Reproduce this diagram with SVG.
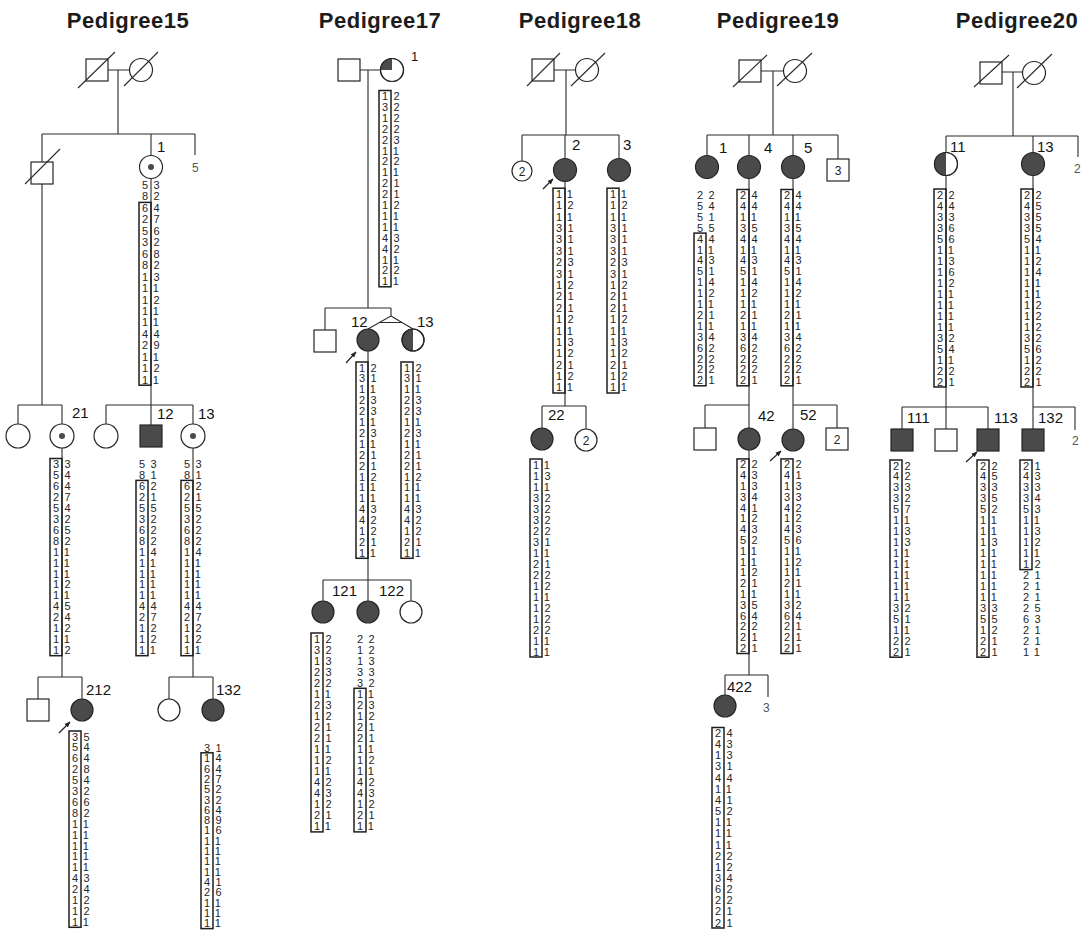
<svg xmlns="http://www.w3.org/2000/svg" width="1083" height="930" viewBox="0 0 1083 930">
<style>
text{font-family:'Liberation Sans',Arial,Helvetica,sans-serif}
.t{font-size:22px;font-weight:bold;letter-spacing:0.5px;fill:#1c1c1c;text-anchor:middle}
.lb{font-size:15px;fill:#141414}
.sm{font-size:12px;fill:#555}
.in{font-size:12px;fill:#222;text-anchor:middle}
.h{font-size:11px;letter-spacing:5.6px;fill:#262626}
.ln{fill:none;stroke:#2b2b2b;stroke-width:1.1}
.o{fill:#fff;stroke:#262626;stroke-width:1.2}
.a{fill:#4a4a4a;stroke:#262626;stroke-width:1.2}
.ring{fill:none;stroke:#262626;stroke-width:1.2}
.dk{fill:#4a4a4a}
.bx{fill:none;stroke:#1e1e1e;stroke-width:1.5}
.ar{fill:none;stroke:#222;stroke-width:1.2}
</style>
<defs>
<marker id="ah" viewBox="0 0 10 10" refX="9" refY="5" markerWidth="6" markerHeight="6" orient="auto" markerUnits="userSpaceOnUse"><path d="M0 1L10 5L0 9Z" fill="#222"/></marker>
</defs>
<rect width="1083" height="930" fill="#fff"/>

<g id="titles">
<text class="t" x="128" y="28">Pedigree15</text>
<text class="t" x="380" y="28">Pedigree17</text>
<text class="t" x="580" y="28">Pedigree18</text>
<text class="t" x="778" y="28">Pedigree19</text>
<text class="t" x="1017" y="28">Pedigree20</text>
</g>

<g id="connectors" class="ln">
<!-- Pedigree15 -->
<path d="M108 70H129.5M118 70V134M42 134H195M42 134V162M151 134V155.5M195 134V155M42 184V405M18 405H62M18 405V424M62 405V424M151 178.5V405M106 405H193M106 405V424M151 405V425M193 405V424M62 448V677M38 677H82M38 677V699M82 677V699M193 448V677M169 677H213M169 677V699M213 677V699"/>
<!-- Pedigree17 -->
<path d="M360 70H380.5M368 70V308M325 308H391M325 308V330M391 308V316L368 329M391 316L413 329M379.5 322.5H402M368 351V580M323 580H411M323 580V601M368 580V601M411 580V601"/>
<!-- Pedigree18 -->
<path d="M554 70H575.5M566 70V135M522 135H619M522 135V161M565 135V158.5M619 135V158.5M565 181.5V406M542 406H586M542 406V428M586 406V429"/>
<!-- Pedigree19 -->
<path d="M761 71H783.5M773 71V135M707 135H838M707 135V155.5M749 135V155.5M793 135V155.5M838 135V159M749 178.5V405M705 405H749M705 405V428M749 405V428M793 178.5V405M793 405H837M793 405V429M837 405V428M749 450V675M725 675H768M725 675V695M768 675V697"/>
<!-- Pedigree20 -->
<path d="M1002 72H1022.5M1013 72V136M946 136H1078M946 136V152.5M1033 136V152.5M1078 136V157M946 175.5V407M902 407H988M902 407V429M946 407V429M988 407V429M1033 175.5V407M1033 407H1075M1033 407V429M1075 407V430"/>
</g>

<!-- ===== Pedigree15 ===== -->
<g id="p15-I1"><rect class="o" x="86" y="59" width="22" height="22"/><line class="ln" x1="78" y1="88" x2="115" y2="52"/></g>
<g id="p15-I2"><circle class="o" cx="141" cy="70" r="11.5"/><line class="ln" x1="124" y1="86" x2="158" y2="52"/></g>
<g id="p15-II1"><rect class="o" x="31" y="162" width="22" height="22"/><line class="ln" x1="25" y1="184" x2="60" y2="149"/></g>
<g id="p15-1"><circle class="o" cx="151" cy="167" r="11.5"/><circle class="dk" cx="151" cy="167" r="3"/><text class="lb" x="157" y="152">1</text>
<rect class="bx" x="139" y="202.4" width="12" height="182.8"/>
<text class="h" y="189"><tspan x="141.9">53</tspan><tspan x="141.9" dy="11.45">82</tspan><tspan x="141.9" dy="11.45">64</tspan><tspan x="141.9" dy="11.45">27</tspan><tspan x="141.9" dy="11.45">56</tspan><tspan x="141.9" dy="11.45">32</tspan><tspan x="141.9" dy="11.45">68</tspan><tspan x="141.9" dy="11.45">82</tspan><tspan x="141.9" dy="11.45">13</tspan><tspan x="141.9" dy="11.45">11</tspan><tspan x="141.9" dy="11.45">12</tspan><tspan x="141.9" dy="11.45">11</tspan><tspan x="141.9" dy="11.45">11</tspan><tspan x="141.9" dy="11.45">44</tspan><tspan x="141.9" dy="11.45">29</tspan><tspan x="141.9" dy="11.45">11</tspan><tspan x="141.9" dy="11.45">12</tspan><tspan x="141.9" dy="11.45">11</tspan></text></g>
<g id="p15-II3"><text class="sm" x="192" y="172">5</text></g>

<g id="p15-III1"><circle class="o" cx="18" cy="436" r="12"/></g>
<g id="p15-21"><circle class="o" cx="62" cy="436" r="12"/><circle class="dk" cx="62" cy="436" r="3"/><text class="lb" x="72" y="418">21</text>
<rect class="bx" x="50" y="458.5" width="12" height="197.2"/>
<text class="h" y="468"><tspan x="52.9">33</tspan><tspan x="52.9" dy="10.95">54</tspan><tspan x="52.9" dy="10.95">64</tspan><tspan x="52.9" dy="10.95">27</tspan><tspan x="52.9" dy="10.95">54</tspan><tspan x="52.9" dy="10.95">32</tspan><tspan x="52.9" dy="10.95">65</tspan><tspan x="52.9" dy="10.95">82</tspan><tspan x="52.9" dy="10.95">11</tspan><tspan x="52.9" dy="10.95">11</tspan><tspan x="52.9" dy="10.95">11</tspan><tspan x="52.9" dy="10.95">12</tspan><tspan x="52.9" dy="10.95">11</tspan><tspan x="52.9" dy="10.95">45</tspan><tspan x="52.9" dy="10.95">24</tspan><tspan x="52.9" dy="10.95">12</tspan><tspan x="52.9" dy="10.95">11</tspan><tspan x="52.9" dy="10.95">12</tspan></text></g>
<g id="p15-III3"><circle class="o" cx="106" cy="436" r="12"/></g>
<g id="p15-12"><rect class="a" x="140" y="425" width="22" height="22"/><text class="lb" x="157" y="419">12</text>
<rect class="bx" x="136" y="480.4" width="12" height="175.3"/>
<text class="h" y="468"><tspan x="138.9">53</tspan><tspan x="138.9" dy="10.95">81</tspan><tspan x="138.9" dy="10.95">62</tspan><tspan x="138.9" dy="10.95">21</tspan><tspan x="138.9" dy="10.95">55</tspan><tspan x="138.9" dy="10.95">32</tspan><tspan x="138.9" dy="10.95">62</tspan><tspan x="138.9" dy="10.95">82</tspan><tspan x="138.9" dy="10.95">14</tspan><tspan x="138.9" dy="10.95">11</tspan><tspan x="138.9" dy="10.95">11</tspan><tspan x="138.9" dy="10.95">11</tspan><tspan x="138.9" dy="10.95">11</tspan><tspan x="138.9" dy="10.95">44</tspan><tspan x="138.9" dy="10.95">27</tspan><tspan x="138.9" dy="10.95">12</tspan><tspan x="138.9" dy="10.95">12</tspan><tspan x="138.9" dy="10.95">11</tspan></text></g>
<g id="p15-13"><circle class="o" cx="193" cy="436" r="12"/><circle class="dk" cx="193" cy="436" r="3"/><text class="lb" x="198" y="419">13</text>
<rect class="bx" x="181" y="480.4" width="12" height="175.3"/>
<text class="h" y="468"><tspan x="183.9">53</tspan><tspan x="183.9" dy="10.95">81</tspan><tspan x="183.9" dy="10.95">62</tspan><tspan x="183.9" dy="10.95">21</tspan><tspan x="183.9" dy="10.95">55</tspan><tspan x="183.9" dy="10.95">32</tspan><tspan x="183.9" dy="10.95">62</tspan><tspan x="183.9" dy="10.95">82</tspan><tspan x="183.9" dy="10.95">14</tspan><tspan x="183.9" dy="10.95">11</tspan><tspan x="183.9" dy="10.95">11</tspan><tspan x="183.9" dy="10.95">11</tspan><tspan x="183.9" dy="10.95">11</tspan><tspan x="183.9" dy="10.95">44</tspan><tspan x="183.9" dy="10.95">27</tspan><tspan x="183.9" dy="10.95">12</tspan><tspan x="183.9" dy="10.95">12</tspan><tspan x="183.9" dy="10.95">11</tspan></text></g>

<g id="p15-IV1"><rect class="o" x="27" y="699" width="22" height="22"/></g>
<g id="p15-212"><circle class="a" cx="82" cy="710" r="11"/><text class="lb" x="86" y="695">212</text>
<path class="ar" d="M59 733L70 722" marker-end="url(#ah)"/>
<rect class="bx" x="69" y="731" width="12" height="196.3"/>
<text class="h" y="740.5"><tspan x="71.9">35</tspan><tspan x="71.9" dy="10.9">54</tspan><tspan x="71.9" dy="10.9">64</tspan><tspan x="71.9" dy="10.9">28</tspan><tspan x="71.9" dy="10.9">54</tspan><tspan x="71.9" dy="10.9">32</tspan><tspan x="71.9" dy="10.9">66</tspan><tspan x="71.9" dy="10.9">82</tspan><tspan x="71.9" dy="10.9">11</tspan><tspan x="71.9" dy="10.9">11</tspan><tspan x="71.9" dy="10.9">11</tspan><tspan x="71.9" dy="10.9">11</tspan><tspan x="71.9" dy="10.9">11</tspan><tspan x="71.9" dy="10.9">43</tspan><tspan x="71.9" dy="10.9">24</tspan><tspan x="71.9" dy="10.9">12</tspan><tspan x="71.9" dy="10.9">12</tspan><tspan x="71.9" dy="10.9">11</tspan></text></g>
<g id="p15-IV3"><circle class="o" cx="169" cy="710" r="11"/></g>
<g id="p15-132"><circle class="a" cx="213" cy="710" r="11"/><text class="lb" x="216" y="695">132</text>
<rect class="bx" x="201" y="752.8" width="12" height="175.8"/>
<text class="h" y="752"><tspan x="203.9">31</tspan><tspan x="203.9" dy="10.3">14</tspan><tspan x="203.9" dy="10.3">64</tspan><tspan x="203.9" dy="10.3">27</tspan><tspan x="203.9" dy="10.3">52</tspan><tspan x="203.9" dy="10.3">32</tspan><tspan x="203.9" dy="10.3">64</tspan><tspan x="203.9" dy="10.3">89</tspan><tspan x="203.9" dy="10.3">16</tspan><tspan x="203.9" dy="10.3">11</tspan><tspan x="203.9" dy="10.3">11</tspan><tspan x="203.9" dy="10.3">11</tspan><tspan x="203.9" dy="10.3">11</tspan><tspan x="203.9" dy="10.3">41</tspan><tspan x="203.9" dy="10.3">26</tspan><tspan x="203.9" dy="10.3">11</tspan><tspan x="203.9" dy="10.3">11</tspan><tspan x="203.9" dy="10.3">11</tspan></text></g>

<!-- ===== Pedigree17 ===== -->
<g id="p17-I1"><rect class="o" x="338" y="59" width="22" height="22"/></g>
<g id="p17-1"><circle class="o" cx="392" cy="70" r="11.5"/><path class="dk" d="M392 70V58.5A11.5 11.5 0 0 0 380.5 70Z"/><circle class="ring" cx="392" cy="70" r="11.5"/><text class="lb" x="411" y="61" style="font-size:13px">1</text>
<rect class="bx" x="379" y="90.5" width="12" height="196.3"/>
<text class="h" y="100"><tspan x="381.9">12</tspan><tspan x="381.9" dy="10.9">32</tspan><tspan x="381.9" dy="10.9">12</tspan><tspan x="381.9" dy="10.9">22</tspan><tspan x="381.9" dy="10.9">23</tspan><tspan x="381.9" dy="10.9">11</tspan><tspan x="381.9" dy="10.9">22</tspan><tspan x="381.9" dy="10.9">11</tspan><tspan x="381.9" dy="10.9">21</tspan><tspan x="381.9" dy="10.9">21</tspan><tspan x="381.9" dy="10.9">12</tspan><tspan x="381.9" dy="10.9">11</tspan><tspan x="381.9" dy="10.9">11</tspan><tspan x="381.9" dy="10.9">43</tspan><tspan x="381.9" dy="10.9">42</tspan><tspan x="381.9" dy="10.9">11</tspan><tspan x="381.9" dy="10.9">22</tspan><tspan x="381.9" dy="10.9">11</tspan></text></g>
<g id="p17-II1"><rect class="o" x="314" y="330" width="22" height="22"/></g>
<g id="p17-12"><circle class="a" cx="368" cy="340" r="11"/><text class="lb" x="351" y="327">12</text>
<path class="ar" d="M346 363L356 352" marker-end="url(#ah)"/>
<rect class="bx" x="356" y="362" width="12" height="196.3"/>
<text class="h" y="371.5"><tspan x="358.9">12</tspan><tspan x="358.9" dy="10.9">31</tspan><tspan x="358.9" dy="10.9">11</tspan><tspan x="358.9" dy="10.9">23</tspan><tspan x="358.9" dy="10.9">23</tspan><tspan x="358.9" dy="10.9">11</tspan><tspan x="358.9" dy="10.9">23</tspan><tspan x="358.9" dy="10.9">11</tspan><tspan x="358.9" dy="10.9">21</tspan><tspan x="358.9" dy="10.9">21</tspan><tspan x="358.9" dy="10.9">12</tspan><tspan x="358.9" dy="10.9">11</tspan><tspan x="358.9" dy="10.9">11</tspan><tspan x="358.9" dy="10.9">43</tspan><tspan x="358.9" dy="10.9">42</tspan><tspan x="358.9" dy="10.9">12</tspan><tspan x="358.9" dy="10.9">21</tspan><tspan x="358.9" dy="10.9">11</tspan></text></g>
<g id="p17-13"><circle class="o" cx="413" cy="340" r="11"/><path class="dk" d="M413 329A11 11 0 0 0 413 351Z"/><circle class="ring" cx="413" cy="340" r="11"/><text class="lb" x="417" y="327">13</text>
<rect class="bx" x="401" y="362" width="12" height="196.3"/>
<text class="h" y="371.5"><tspan x="403.9">12</tspan><tspan x="403.9" dy="10.9">31</tspan><tspan x="403.9" dy="10.9">11</tspan><tspan x="403.9" dy="10.9">23</tspan><tspan x="403.9" dy="10.9">23</tspan><tspan x="403.9" dy="10.9">11</tspan><tspan x="403.9" dy="10.9">23</tspan><tspan x="403.9" dy="10.9">11</tspan><tspan x="403.9" dy="10.9">21</tspan><tspan x="403.9" dy="10.9">21</tspan><tspan x="403.9" dy="10.9">12</tspan><tspan x="403.9" dy="10.9">11</tspan><tspan x="403.9" dy="10.9">11</tspan><tspan x="403.9" dy="10.9">43</tspan><tspan x="403.9" dy="10.9">42</tspan><tspan x="403.9" dy="10.9">12</tspan><tspan x="403.9" dy="10.9">21</tspan><tspan x="403.9" dy="10.9">11</tspan></text></g>

<g id="p17-121"><circle class="a" cx="323" cy="612" r="11"/><text class="lb" x="332" y="596">121</text>
<rect class="bx" x="311" y="633" width="12" height="198.9"/>
<text class="h" y="642.5"><tspan x="313.9">12</tspan><tspan x="313.9" dy="11.05">32</tspan><tspan x="313.9" dy="11.05">13</tspan><tspan x="313.9" dy="11.05">23</tspan><tspan x="313.9" dy="11.05">22</tspan><tspan x="313.9" dy="11.05">11</tspan><tspan x="313.9" dy="11.05">23</tspan><tspan x="313.9" dy="11.05">12</tspan><tspan x="313.9" dy="11.05">21</tspan><tspan x="313.9" dy="11.05">21</tspan><tspan x="313.9" dy="11.05">11</tspan><tspan x="313.9" dy="11.05">12</tspan><tspan x="313.9" dy="11.05">11</tspan><tspan x="313.9" dy="11.05">42</tspan><tspan x="313.9" dy="11.05">43</tspan><tspan x="313.9" dy="11.05">12</tspan><tspan x="313.9" dy="11.05">21</tspan><tspan x="313.9" dy="11.05">11</tspan></text></g>
<g id="p17-122"><circle class="a" cx="368" cy="612" r="11"/><text class="lb" x="379" y="596">122</text>
<rect class="bx" x="354" y="688.3" width="12" height="143.6"/>
<text class="h" y="642.5"><tspan x="356.9">22</tspan><tspan x="356.9" dy="11.05">12</tspan><tspan x="356.9" dy="11.05">13</tspan><tspan x="356.9" dy="11.05">33</tspan><tspan x="356.9" dy="11.05">32</tspan><tspan x="356.9" dy="11.05">11</tspan><tspan x="356.9" dy="11.05">23</tspan><tspan x="356.9" dy="11.05">12</tspan><tspan x="356.9" dy="11.05">21</tspan><tspan x="356.9" dy="11.05">21</tspan><tspan x="356.9" dy="11.05">11</tspan><tspan x="356.9" dy="11.05">12</tspan><tspan x="356.9" dy="11.05">11</tspan><tspan x="356.9" dy="11.05">42</tspan><tspan x="356.9" dy="11.05">43</tspan><tspan x="356.9" dy="11.05">12</tspan><tspan x="356.9" dy="11.05">21</tspan><tspan x="356.9" dy="11.05">11</tspan></text></g>
<g id="p17-III3"><circle class="o" cx="411" cy="612" r="11"/></g>

<!-- ===== Pedigree18 ===== -->
<g id="p18-I1"><rect class="o" x="532" y="59" width="22" height="22"/><line class="ln" x1="527" y1="86" x2="560" y2="53"/></g>
<g id="p18-I2"><circle class="o" cx="587" cy="70" r="11.5"/><line class="ln" x1="571" y1="86" x2="605" y2="53"/></g>
<g id="p18-II1"><circle class="o" cx="522" cy="171" r="10"/><text class="in" x="522" y="175.5">2</text></g>
<g id="p18-2"><circle class="a" cx="565" cy="170" r="11.5"/><text class="lb" x="572" y="150">2</text>
<path class="ar" d="M543 189L553 179" marker-end="url(#ah)"/>
<rect class="bx" x="553" y="188.2" width="12" height="204.8"/>
<text class="h" y="197.7"><tspan x="555.9">11</tspan><tspan x="555.9" dy="11.4">12</tspan><tspan x="555.9" dy="11.4">11</tspan><tspan x="555.9" dy="11.4">31</tspan><tspan x="555.9" dy="11.4">31</tspan><tspan x="555.9" dy="11.4">31</tspan><tspan x="555.9" dy="11.4">23</tspan><tspan x="555.9" dy="11.4">31</tspan><tspan x="555.9" dy="11.4">12</tspan><tspan x="555.9" dy="11.4">21</tspan><tspan x="555.9" dy="11.4">21</tspan><tspan x="555.9" dy="11.4">12</tspan><tspan x="555.9" dy="11.4">11</tspan><tspan x="555.9" dy="11.4">13</tspan><tspan x="555.9" dy="11.4">12</tspan><tspan x="555.9" dy="11.4">21</tspan><tspan x="555.9" dy="11.4">12</tspan><tspan x="555.9" dy="11.4">11</tspan></text></g>
<g id="p18-3"><circle class="a" cx="619" cy="170" r="11.5"/><text class="lb" x="623" y="150">3</text>
<rect class="bx" x="607" y="188.2" width="12" height="204.8"/>
<text class="h" y="197.7"><tspan x="609.9">11</tspan><tspan x="609.9" dy="11.4">12</tspan><tspan x="609.9" dy="11.4">11</tspan><tspan x="609.9" dy="11.4">31</tspan><tspan x="609.9" dy="11.4">31</tspan><tspan x="609.9" dy="11.4">31</tspan><tspan x="609.9" dy="11.4">23</tspan><tspan x="609.9" dy="11.4">31</tspan><tspan x="609.9" dy="11.4">12</tspan><tspan x="609.9" dy="11.4">21</tspan><tspan x="609.9" dy="11.4">21</tspan><tspan x="609.9" dy="11.4">12</tspan><tspan x="609.9" dy="11.4">11</tspan><tspan x="609.9" dy="11.4">13</tspan><tspan x="609.9" dy="11.4">12</tspan><tspan x="609.9" dy="11.4">21</tspan><tspan x="609.9" dy="11.4">12</tspan><tspan x="609.9" dy="11.4">11</tspan></text></g>
<g id="p18-22"><circle class="a" cx="542" cy="439" r="11"/><text class="lb" x="548" y="420">22</text>
<rect class="bx" x="530" y="459" width="12" height="198"/>
<text class="h" y="468.5"><tspan x="532.9">11</tspan><tspan x="532.9" dy="11">13</tspan><tspan x="532.9" dy="11">11</tspan><tspan x="532.9" dy="11">32</tspan><tspan x="532.9" dy="11">32</tspan><tspan x="532.9" dy="11">32</tspan><tspan x="532.9" dy="11">22</tspan><tspan x="532.9" dy="11">31</tspan><tspan x="532.9" dy="11">11</tspan><tspan x="532.9" dy="11">21</tspan><tspan x="532.9" dy="11">22</tspan><tspan x="532.9" dy="11">12</tspan><tspan x="532.9" dy="11">11</tspan><tspan x="532.9" dy="11">12</tspan><tspan x="532.9" dy="11">12</tspan><tspan x="532.9" dy="11">22</tspan><tspan x="532.9" dy="11">11</tspan><tspan x="532.9" dy="11">11</tspan></text></g>
<g id="p18-III2"><circle class="o" cx="586" cy="440" r="11"/><text class="in" x="586" y="444.5">2</text></g>

<!-- ===== Pedigree19 ===== -->
<g id="p19-I1"><rect class="o" x="739" y="60" width="22" height="22"/><line class="ln" x1="733" y1="87" x2="767" y2="55"/></g>
<g id="p19-I2"><circle class="o" cx="795" cy="71" r="11.5"/><line class="ln" x1="777" y1="86" x2="812" y2="53"/></g>
<g id="p19-1"><circle class="a" cx="707" cy="167" r="11.5"/><text class="lb" x="719" y="153">1</text>
<rect class="bx" x="694" y="233.1" width="12" height="152.7"/>
<text class="h" y="199"><tspan x="696.9">22</tspan><tspan x="696.9" dy="10.9">54</tspan><tspan x="696.9" dy="10.9">51</tspan><tspan x="696.9" dy="10.9">55</tspan><tspan x="696.9" dy="10.9">44</tspan><tspan x="696.9" dy="10.9">11</tspan><tspan x="696.9" dy="10.9">43</tspan><tspan x="696.9" dy="10.9">51</tspan><tspan x="696.9" dy="10.9">14</tspan><tspan x="696.9" dy="10.9">12</tspan><tspan x="696.9" dy="10.9">11</tspan><tspan x="696.9" dy="10.9">21</tspan><tspan x="696.9" dy="10.9">11</tspan><tspan x="696.9" dy="10.9">34</tspan><tspan x="696.9" dy="10.9">62</tspan><tspan x="696.9" dy="10.9">22</tspan><tspan x="696.9" dy="10.9">22</tspan><tspan x="696.9" dy="10.9">21</tspan></text></g>
<g id="p19-4"><circle class="a" cx="749" cy="167" r="11.5"/><text class="lb" x="764" y="153">4</text>
<rect class="bx" x="737" y="189.5" width="12" height="196.3"/>
<text class="h" y="199"><tspan x="739.9">24</tspan><tspan x="739.9" dy="10.9">44</tspan><tspan x="739.9" dy="10.9">11</tspan><tspan x="739.9" dy="10.9">35</tspan><tspan x="739.9" dy="10.9">44</tspan><tspan x="739.9" dy="10.9">11</tspan><tspan x="739.9" dy="10.9">43</tspan><tspan x="739.9" dy="10.9">51</tspan><tspan x="739.9" dy="10.9">14</tspan><tspan x="739.9" dy="10.9">12</tspan><tspan x="739.9" dy="10.9">11</tspan><tspan x="739.9" dy="10.9">21</tspan><tspan x="739.9" dy="10.9">11</tspan><tspan x="739.9" dy="10.9">34</tspan><tspan x="739.9" dy="10.9">62</tspan><tspan x="739.9" dy="10.9">22</tspan><tspan x="739.9" dy="10.9">22</tspan><tspan x="739.9" dy="10.9">21</tspan></text></g>
<g id="p19-5"><circle class="a" cx="793" cy="167" r="11.5"/><text class="lb" x="804" y="153">5</text>
<rect class="bx" x="781" y="189.5" width="12" height="196.3"/>
<text class="h" y="199"><tspan x="783.9">24</tspan><tspan x="783.9" dy="10.9">44</tspan><tspan x="783.9" dy="10.9">11</tspan><tspan x="783.9" dy="10.9">35</tspan><tspan x="783.9" dy="10.9">44</tspan><tspan x="783.9" dy="10.9">11</tspan><tspan x="783.9" dy="10.9">43</tspan><tspan x="783.9" dy="10.9">51</tspan><tspan x="783.9" dy="10.9">14</tspan><tspan x="783.9" dy="10.9">12</tspan><tspan x="783.9" dy="10.9">11</tspan><tspan x="783.9" dy="10.9">21</tspan><tspan x="783.9" dy="10.9">11</tspan><tspan x="783.9" dy="10.9">34</tspan><tspan x="783.9" dy="10.9">62</tspan><tspan x="783.9" dy="10.9">22</tspan><tspan x="783.9" dy="10.9">22</tspan><tspan x="783.9" dy="10.9">21</tspan></text></g>
<g id="p19-II4"><rect class="o" x="827" y="159" width="22" height="22"/><text class="in" x="838" y="174.5">3</text></g>

<g id="p19-III1"><rect class="o" x="694" y="428" width="22" height="22"/></g>
<g id="p19-42"><circle class="a" cx="749" cy="439" r="11"/><text class="lb" x="758" y="421">42</text>
<rect class="bx" x="737" y="458.9" width="12" height="194.6"/>
<text class="h" y="468.4"><tspan x="739.9">22</tspan><tspan x="739.9" dy="10.8">43</tspan><tspan x="739.9" dy="10.8">13</tspan><tspan x="739.9" dy="10.8">34</tspan><tspan x="739.9" dy="10.8">41</tspan><tspan x="739.9" dy="10.8">12</tspan><tspan x="739.9" dy="10.8">43</tspan><tspan x="739.9" dy="10.8">52</tspan><tspan x="739.9" dy="10.8">11</tspan><tspan x="739.9" dy="10.8">11</tspan><tspan x="739.9" dy="10.8">12</tspan><tspan x="739.9" dy="10.8">21</tspan><tspan x="739.9" dy="10.8">11</tspan><tspan x="739.9" dy="10.8">35</tspan><tspan x="739.9" dy="10.8">64</tspan><tspan x="739.9" dy="10.8">22</tspan><tspan x="739.9" dy="10.8">21</tspan><tspan x="739.9" dy="10.8">21</tspan></text></g>
<g id="p19-52"><circle class="a" cx="793" cy="440" r="11"/><text class="lb" x="800" y="420">52</text>
<path class="ar" d="M770 461L781 451" marker-end="url(#ah)"/>
<rect class="bx" x="781" y="458.9" width="12" height="194.6"/>
<text class="h" y="468.4"><tspan x="783.9">22</tspan><tspan x="783.9" dy="10.8">41</tspan><tspan x="783.9" dy="10.8">13</tspan><tspan x="783.9" dy="10.8">33</tspan><tspan x="783.9" dy="10.8">42</tspan><tspan x="783.9" dy="10.8">12</tspan><tspan x="783.9" dy="10.8">43</tspan><tspan x="783.9" dy="10.8">56</tspan><tspan x="783.9" dy="10.8">11</tspan><tspan x="783.9" dy="10.8">12</tspan><tspan x="783.9" dy="10.8">11</tspan><tspan x="783.9" dy="10.8">21</tspan><tspan x="783.9" dy="10.8">11</tspan><tspan x="783.9" dy="10.8">32</tspan><tspan x="783.9" dy="10.8">64</tspan><tspan x="783.9" dy="10.8">21</tspan><tspan x="783.9" dy="10.8">21</tspan><tspan x="783.9" dy="10.8">21</tspan></text></g>
<g id="p19-III4"><rect class="o" x="826" y="428" width="22" height="22"/><text class="in" x="837" y="443.5">2</text></g>

<g id="p19-422"><circle class="a" cx="725" cy="706" r="11"/><text class="lb" x="727" y="692">422</text>
<rect class="bx" x="712" y="727.5" width="12" height="200.5"/>
<text class="h" y="737"><tspan x="714.9">24</tspan><tspan x="714.9" dy="11.15">43</tspan><tspan x="714.9" dy="11.15">13</tspan><tspan x="714.9" dy="11.15">31</tspan><tspan x="714.9" dy="11.15">44</tspan><tspan x="714.9" dy="11.15">11</tspan><tspan x="714.9" dy="11.15">41</tspan><tspan x="714.9" dy="11.15">52</tspan><tspan x="714.9" dy="11.15">11</tspan><tspan x="714.9" dy="11.15">11</tspan><tspan x="714.9" dy="11.15">11</tspan><tspan x="714.9" dy="11.15">22</tspan><tspan x="714.9" dy="11.15">12</tspan><tspan x="714.9" dy="11.15">34</tspan><tspan x="714.9" dy="11.15">62</tspan><tspan x="714.9" dy="11.15">22</tspan><tspan x="714.9" dy="11.15">21</tspan><tspan x="714.9" dy="11.15">21</tspan></text></g>
<g id="p19-IV2"><text class="sm" x="763" y="712">3</text></g>

<!-- ===== Pedigree20 ===== -->
<g id="p20-I1"><rect class="o" x="980" y="62" width="22" height="22"/><line class="ln" x1="974" y1="87" x2="1009" y2="55"/></g>
<g id="p20-I2"><circle class="o" cx="1034" cy="73" r="11.5"/><line class="ln" x1="1017" y1="88" x2="1052" y2="54"/></g>
<g id="p20-11"><circle class="o" cx="946" cy="164" r="11.5"/><path class="dk" d="M946 152.5A11.5 11.5 0 0 0 946 175.5Z"/><circle class="ring" cx="946" cy="164" r="11.5"/><text class="lb" x="950" y="152">11</text>
<rect class="bx" x="934" y="189" width="12" height="198"/>
<text class="h" y="198.5"><tspan x="936.9">22</tspan><tspan x="936.9" dy="11">44</tspan><tspan x="936.9" dy="11">33</tspan><tspan x="936.9" dy="11">36</tspan><tspan x="936.9" dy="11">56</tspan><tspan x="936.9" dy="11">11</tspan><tspan x="936.9" dy="11">13</tspan><tspan x="936.9" dy="11">16</tspan><tspan x="936.9" dy="11">12</tspan><tspan x="936.9" dy="11">11</tspan><tspan x="936.9" dy="11">11</tspan><tspan x="936.9" dy="11">11</tspan><tspan x="936.9" dy="11">11</tspan><tspan x="936.9" dy="11">32</tspan><tspan x="936.9" dy="11">54</tspan><tspan x="936.9" dy="11">11</tspan><tspan x="936.9" dy="11">22</tspan><tspan x="936.9" dy="11">21</tspan></text></g>
<g id="p20-13"><circle class="a" cx="1033" cy="164" r="11.5"/><text class="lb" x="1037" y="152">13</text>
<rect class="bx" x="1021" y="189" width="12" height="198"/>
<text class="h" y="198.5"><tspan x="1023.9">22</tspan><tspan x="1023.9" dy="11">45</tspan><tspan x="1023.9" dy="11">35</tspan><tspan x="1023.9" dy="11">35</tspan><tspan x="1023.9" dy="11">54</tspan><tspan x="1023.9" dy="11">11</tspan><tspan x="1023.9" dy="11">12</tspan><tspan x="1023.9" dy="11">14</tspan><tspan x="1023.9" dy="11">11</tspan><tspan x="1023.9" dy="11">11</tspan><tspan x="1023.9" dy="11">12</tspan><tspan x="1023.9" dy="11">12</tspan><tspan x="1023.9" dy="11">12</tspan><tspan x="1023.9" dy="11">32</tspan><tspan x="1023.9" dy="11">56</tspan><tspan x="1023.9" dy="11">12</tspan><tspan x="1023.9" dy="11">22</tspan><tspan x="1023.9" dy="11">21</tspan></text></g>
<g id="p20-II3"><text class="sm" x="1074" y="173">2</text></g>

<g id="p20-111"><rect class="a" x="891" y="429" width="22" height="22"/><text class="lb" x="907" y="423">111</text>
<rect class="bx" x="890" y="460" width="12" height="197.2"/>
<text class="h" y="469.5"><tspan x="892.9">22</tspan><tspan x="892.9" dy="10.95">42</tspan><tspan x="892.9" dy="10.95">33</tspan><tspan x="892.9" dy="10.95">32</tspan><tspan x="892.9" dy="10.95">57</tspan><tspan x="892.9" dy="10.95">11</tspan><tspan x="892.9" dy="10.95">13</tspan><tspan x="892.9" dy="10.95">13</tspan><tspan x="892.9" dy="10.95">11</tspan><tspan x="892.9" dy="10.95">11</tspan><tspan x="892.9" dy="10.95">11</tspan><tspan x="892.9" dy="10.95">11</tspan><tspan x="892.9" dy="10.95">11</tspan><tspan x="892.9" dy="10.95">32</tspan><tspan x="892.9" dy="10.95">51</tspan><tspan x="892.9" dy="10.95">11</tspan><tspan x="892.9" dy="10.95">22</tspan><tspan x="892.9" dy="10.95">21</tspan></text></g>
<g id="p20-III2"><rect class="o" x="935" y="429" width="22" height="22"/></g>
<g id="p20-113"><rect class="a" x="977" y="429" width="22" height="22"/><text class="lb" x="994" y="423">113</text>
<path class="ar" d="M966 462L977 452" marker-end="url(#ah)"/>
<rect class="bx" x="977" y="460" width="12" height="197.2"/>
<text class="h" y="469.5"><tspan x="979.9">22</tspan><tspan x="979.9" dy="10.95">45</tspan><tspan x="979.9" dy="10.95">33</tspan><tspan x="979.9" dy="10.95">35</tspan><tspan x="979.9" dy="10.95">52</tspan><tspan x="979.9" dy="10.95">11</tspan><tspan x="979.9" dy="10.95">11</tspan><tspan x="979.9" dy="10.95">13</tspan><tspan x="979.9" dy="10.95">11</tspan><tspan x="979.9" dy="10.95">11</tspan><tspan x="979.9" dy="10.95">11</tspan><tspan x="979.9" dy="10.95">11</tspan><tspan x="979.9" dy="10.95">11</tspan><tspan x="979.9" dy="10.95">33</tspan><tspan x="979.9" dy="10.95">55</tspan><tspan x="979.9" dy="10.95">12</tspan><tspan x="979.9" dy="10.95">21</tspan><tspan x="979.9" dy="10.95">21</tspan></text></g>
<g id="p20-132"><rect class="a" x="1022" y="429" width="22" height="22"/><text class="lb" x="1038" y="423">132</text>
<rect class="bx" x="1020" y="460" width="12" height="109.6"/>
<text class="h" y="469.5"><tspan x="1022.9">21</tspan><tspan x="1022.9" dy="10.95">43</tspan><tspan x="1022.9" dy="10.95">33</tspan><tspan x="1022.9" dy="10.95">34</tspan><tspan x="1022.9" dy="10.95">53</tspan><tspan x="1022.9" dy="10.95">11</tspan><tspan x="1022.9" dy="10.95">13</tspan><tspan x="1022.9" dy="10.95">12</tspan><tspan x="1022.9" dy="10.95">11</tspan><tspan x="1022.9" dy="10.95">12</tspan><tspan x="1022.9" dy="10.95">21</tspan><tspan x="1022.9" dy="10.95">21</tspan><tspan x="1022.9" dy="10.95">21</tspan><tspan x="1022.9" dy="10.95">25</tspan><tspan x="1022.9" dy="10.95">63</tspan><tspan x="1022.9" dy="10.95">21</tspan><tspan x="1022.9" dy="10.95">21</tspan><tspan x="1022.9" dy="10.95">11</tspan></text></g>
<g id="p20-III5"><text class="sm" x="1072" y="445">2</text></g>
</svg>
